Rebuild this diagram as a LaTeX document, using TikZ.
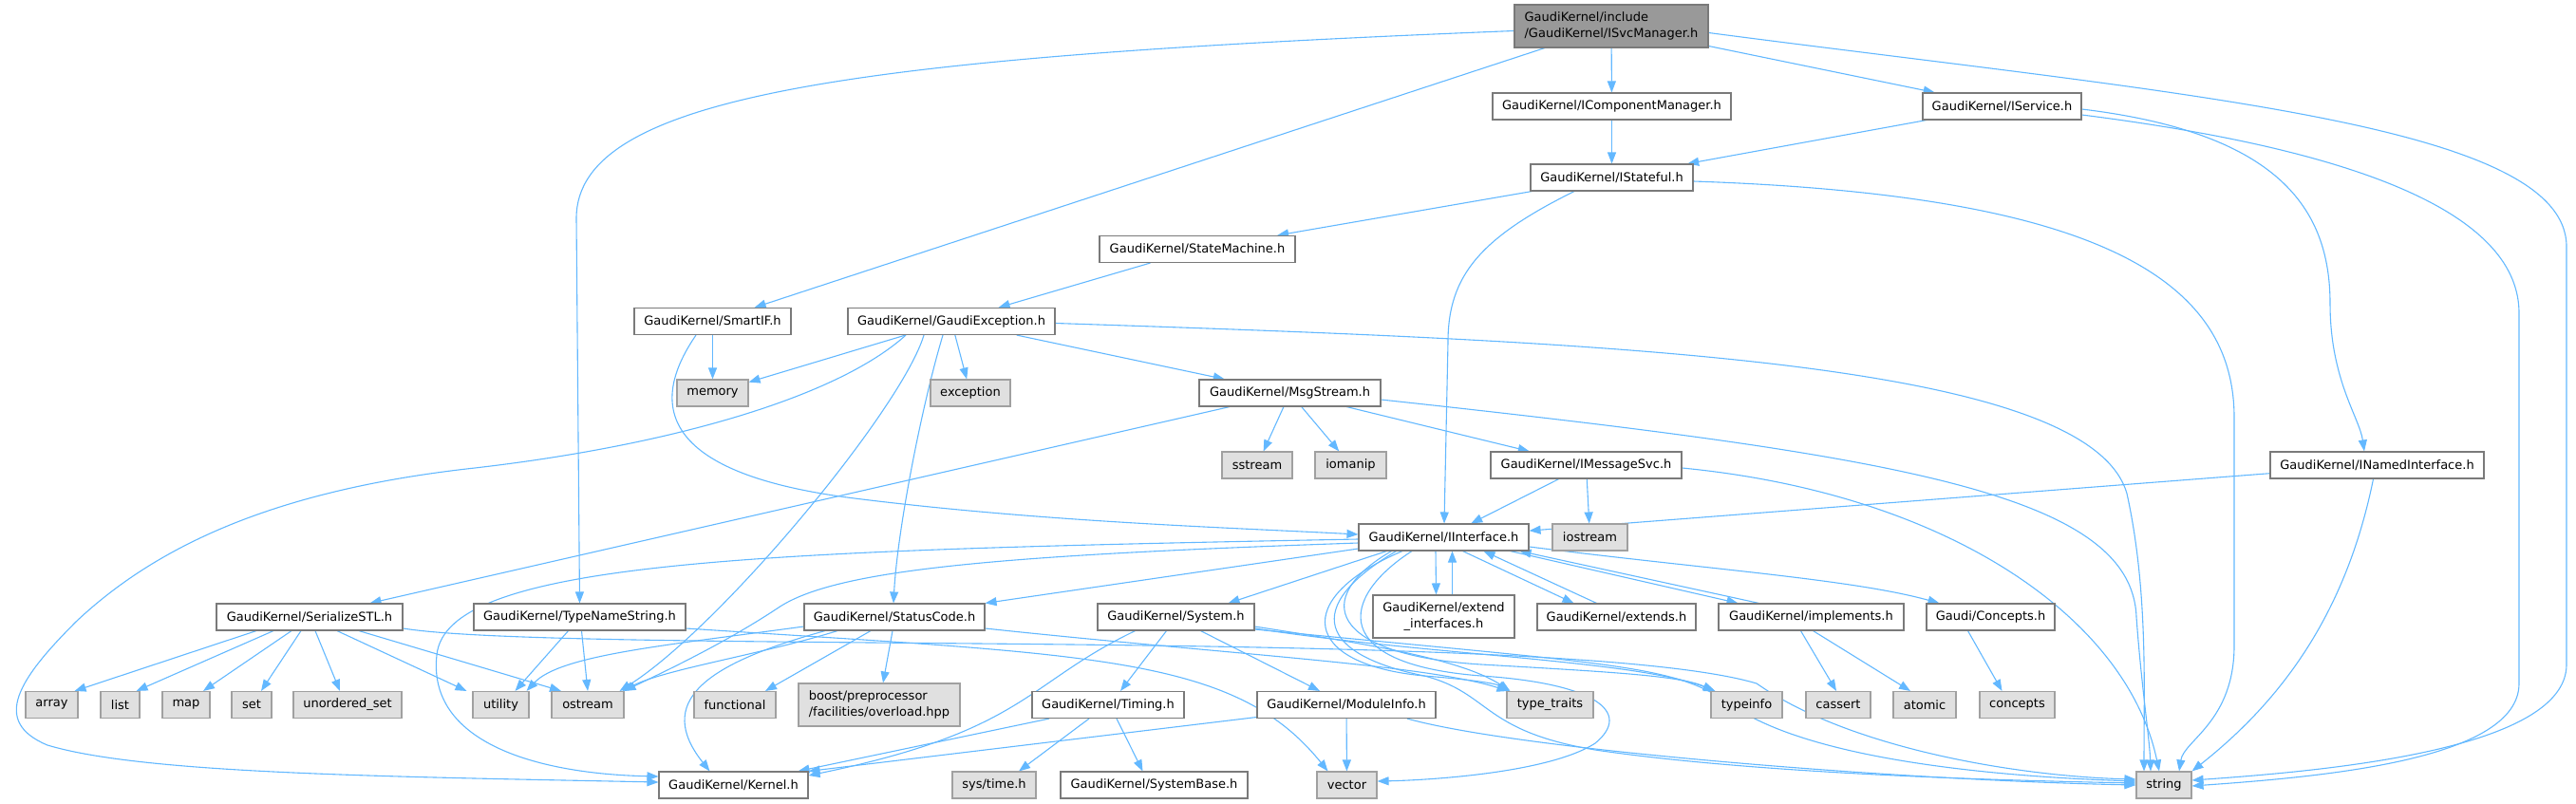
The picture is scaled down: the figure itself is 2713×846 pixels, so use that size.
\documentclass[tikz,border=0pt]{standalone}
\usepackage{fontspec}
\setmainfont{DejaVu Sans}
\usetikzlibrary{arrows.meta}
\definecolor{eblue}{HTML}{63B8FF}
\definecolor{bnorm}{HTML}{7A7A7A}
\definecolor{bleaf}{HTML}{A0A0A0}
\definecolor{fleaf}{HTML}{E0E0E0}
\definecolor{froot}{HTML}{999999}
\pgfdeclarelayer{bg}
\pgfsetlayers{bg,main}
\tikzset{
  nd/.style={draw=bnorm, fill=white, line width=1.1pt, inner sep=0pt, minimum height=28pt, font=\fontsize{13}{17}\selectfont},
  leaf/.style={nd, draw=bleaf, fill=fleaf},
  rootnd/.style={nd, draw=bnorm, fill=froot, minimum height=45pt},
  e/.style={draw=eblue, line width=1.1pt, -{Triangle[length=12pt,width=9pt]}},
}
\begin{document}
\begin{tikzpicture}[x=1pt,y=-1pt]
\useasboundingbox (0,0) rectangle (2713,846);
% nodes
\node[rootnd, minimum width=204pt, align=left] (root) at (1697,27.5) {GaudiKernel/include\\/GaudiKernel/ISvcManager.h};
\node[nd, minimum width=251pt] (icm) at (1697.5,112) {GaudiKernel/IComponentManager.h};
\node[nd, minimum width=167pt] (isvc) at (2108.5,112) {GaudiKernel/IService.h};
\node[nd, minimum width=171pt] (istate) at (1697.5,187) {GaudiKernel/IStateful.h};
\node[nd, minimum width=206pt] (sm) at (1261,262.5) {GaudiKernel/StateMachine.h};
\node[nd, minimum width=165pt] (smartif) at (750.5,338.5) {GaudiKernel/SmartIF.h};
\node[nd, minimum width=218pt] (ge) at (1002,338.5) {GaudiKernel/GaudiException.h};
\node[leaf, minimum width=75pt] (memory) at (750.5,414) {memory};
\node[leaf, minimum width=84pt] (exception) at (1022,414) {exception};
\node[nd, minimum width=191pt] (msg) at (1358.5,414) {GaudiKernel/MsgStream.h};
\node[leaf, minimum width=74pt] (sstream) at (1324,490) {sstream};
\node[leaf, minimum width=75pt] (iomanip) at (1422.5,490) {iomanip};
\node[nd, minimum width=201pt] (imsg) at (1670.5,490) {GaudiKernel/IMessageSvc.h};
\node[nd, minimum width=225pt] (inamed) at (2503.5,490) {GaudiKernel/INamedInterface.h};
\node[nd, minimum width=179pt] (iint) at (1520.5,566) {GaudiKernel/IInterface.h};
\node[leaf, minimum width=79pt] (iostream) at (1674.5,566) {iostream};
\node[nd, minimum width=196pt] (sstl) at (326,650) {GaudiKernel/SerializeSTL.h};
\node[nd, minimum width=223pt] (tns) at (610.5,650) {GaudiKernel/TypeNameString.h};
\node[nd, minimum width=190pt] (sc) at (942,650) {GaudiKernel/StatusCode.h};
\node[nd, minimum width=165pt] (sys) at (1238.5,650) {GaudiKernel/System.h};
\node[nd, minimum width=149pt, minimum height=45pt, align=center] (extif) at (1520.5,649.5) {GaudiKernel/extend\\\_interfaces.h};
\node[nd, minimum width=167pt] (extends) at (1702.5,650) {GaudiKernel/extends.h};
\node[nd, minimum width=195pt] (impl) at (1907.5,650) {GaudiKernel/implements.h};
\node[nd, minimum width=135pt] (gconc) at (2096.5,650) {Gaudi/Concepts.h};
\node[leaf, minimum width=55pt] (array) at (54.5,742.5) {array};
\node[leaf, minimum width=41pt] (list) at (126.5,742.5) {list};
\node[leaf, minimum width=50pt] (map) at (196,742.5) {map};
\node[leaf, minimum width=42pt] (set) at (265,742.5) {set};
\node[leaf, minimum width=114pt] (uset) at (366,742.5) {unordered\_set};
\node[leaf, minimum width=59pt] (utility) at (527.5,742.5) {utility};
\node[leaf, minimum width=76pt] (ostream) at (619,742.5) {ostream};
\node[leaf, minimum width=86pt] (functional) at (774,742.5) {functional};
\node[leaf, minimum width=170pt, minimum height=45pt, align=left] (boost) at (926,742.5) {boost/preprocessor\\/facilities/overload.hpp};
\node[nd, minimum width=160pt] (timing) at (1167,742.5) {GaudiKernel/Timing.h};
\node[nd, minimum width=188pt] (modinfo) at (1418,742.5) {GaudiKernel/ModuleInfo.h};
\node[leaf, minimum width=91pt] (ttraits) at (1632.5,742.5) {type\_traits};
\node[leaf, minimum width=75pt] (typeinfo) at (1839.5,742.5) {typeinfo};
\node[leaf, minimum width=68pt] (cassert) at (1936,742.5) {cassert};
\node[leaf, minimum width=66pt] (atomic) at (2027,742.5) {atomic};
\node[leaf, minimum width=79pt] (concepts) at (2124.5,742.5) {concepts};
\node[nd, minimum width=157pt] (kernel) at (772.5,827) {GaudiKernel/Kernel.h};
\node[leaf, minimum width=88pt] (systime) at (1047,827) {sys/time.h};
\node[nd, minimum width=197pt] (sysbase) at (1215.5,827) {GaudiKernel/SystemBase.h};
\node[leaf, minimum width=63pt] (vector) at (1418.5,827) {vector};
\node[leaf, minimum width=58pt] (string) at (2279,827) {string};
% edges
\begin{pgfonlayer}{bg}
% ISvcManager
\draw[e] (root) -- (icm);
\draw[e] (root) -- (isvc);
\draw[e] (root) -- (smartif);
\draw[e] ([yshift=-5pt]root.west) .. controls (900,60) and (607,100) .. (607,230) -- (tns.north);
\draw[e] ([yshift=-7pt]root.east) .. controls (2300,100) and (2703,130) .. (2703,260) -- (2703,700) .. controls (2703,790) and (2450,812) .. ([yshift=5pt]string.east);
\draw[e] (icm) -- (istate);
\draw[e] (isvc) -- (istate);
\draw[e] ([yshift=-3pt]isvc.east) .. controls (2400,140) and (2454,220) .. (2454,320) .. controls (2454,400) and (2485,440) .. ([xshift=-13.5pt]inamed.north);
\draw[e] ([yshift=-9pt]isvc.east) .. controls (2500,160) and (2653,230) .. (2653,330) -- (2653,720) .. controls (2653,800) and (2450,818) .. ([yshift=-1pt]string.east);
% IStateful
\draw[e] (istate) -- (sm);
\draw[e] ([xshift=-39.5pt]istate.south) .. controls (1560,250) and (1525,290) .. (1525,360) -- ([xshift=0.5pt]iint.north);
\draw[e] ([yshift=-4pt]istate.east) .. controls (2200,205) and (2353,290) .. (2353,440) -- (2353,680) .. controls (2353,760) and (2300,780) .. ([xshift=16pt]string.north);
\draw[e] (sm) -- (ge);
% SmartIF
\draw[e] (smartif) -- (memory);
\draw[e] ([xshift=-17.5pt]smartif.south) .. controls (680,430) and (700,500) .. (900,525) .. controls (1100,550) and (1300,556) .. ([yshift=3pt]iint.west);
% GaudiException
\draw[e] (ge) -- (memory);
\draw[e] (ge) -- (exception);
\draw[e] (ge) -- (msg);
\draw[e] ([xshift=-9pt]ge.south) .. controls (970,430) and (945,560) .. ([xshift=-1pt]sc.north);
\draw[e] ([xshift=-29pt]ge.south) .. controls (950,430) and (760,660) .. ([xshift=-5pt]ostream.north east);
\draw[e] ([xshift=-48pt]ge.south) .. controls (880,420) and (700,470) .. (500,493) .. controls (300,515) and (170,570) .. (80,655) .. controls (20,715) and (-10,760) .. (50,785) .. controls (150,815) and (400,818) .. ([yshift=3pt]kernel.west);
\draw[e] ([yshift=-2pt]ge.east) .. controls (1700,360) and (2200,380) .. (2240,520) .. controls (2262,620) and (2258,720) .. ([xshift=-21pt]string.north);
% MsgStream
\draw[e] (msg) -- (sstl);
\draw[e] (msg) -- (sstream);
\draw[e] (msg) -- (iomanip);
\draw[e] (msg) -- (imsg);
\draw[e] ([yshift=-7pt]msg.east) .. controls (2000,480) and (2245,520) .. (2250,650) .. controls (2255,720) and (2264,780) .. ([xshift=-14pt]string.north);
% IMessageSvc
\draw[e] (imsg) -- (iint);
\draw[e] (imsg) -- (iostream);
\draw[e] ([yshift=-3pt]imsg.east) .. controls (2050,520) and (2240,650) .. ([xshift=-5pt]string.north);
% INamedInterface
\draw[e] (inamed) -- (iint);
\draw[e] ([xshift=-4pt]inamed.south) .. controls (2470,650) and (2400,740) .. (string.north east);
% IInterface
\draw[e] ([xshift=-8.5pt]iint.south) -- ([xshift=-8pt]extif.north);
\draw[e] ([xshift=9pt]extif.north) -- ([xshift=9pt]iint.south);
\draw[e] ([xshift=20pt]iint.south) -- ([xshift=-45pt]extends.north);
\draw[e] ([xshift=-21pt]extends.north) -- ([xshift=42pt]iint.south);
\draw[e] ([xshift=-20pt]iint.south east) -- ([xshift=-77pt]impl.north);
\draw[e] ([xshift=-55pt]impl.north) -- ([xshift=-10pt]iint.south east);
\draw[e] ([yshift=-10pt]iint.east) .. controls (1800,600) and (1950,610) .. ([xshift=-54pt]gconc.north);
\draw[e] ([yshift=-12pt]iint.west) -- (sc.north east);
\draw[e] ([xshift=-60pt]iint.south) -- ([xshift=55pt]sys.north);
\draw[e] ([yshift=-2pt]iint.west) .. controls (800,580) and (470,590) .. (460,690) .. controls (450,780) and (560,815) .. ([yshift=9pt]kernel.west);
\draw[e] ([yshift=-6pt]iint.west) .. controls (1050,585) and (880,600) .. (820,640) .. controls (760,680) and (690,712) .. (ostream.north east);
\draw[e] ([xshift=-43.5pt]iint.south) .. controls (1360,630) and (1370,700) .. (1500,712) .. controls (1550,716) and (1575,720) .. ([xshift=-43pt]ttraits.north);
\draw[e] ([xshift=-55pt]iint.south) .. controls (1380,630) and (1400,690) .. (1560,700) .. controls (1700,708) and (1770,712) .. ([xshift=-34pt]typeinfo.north);
\draw[e] ([xshift=-33.5pt]iint.south) .. controls (1410,630) and (1400,700) .. (1560,712) .. controls (1680,720) and (1720,750) .. (1680,783) .. controls (1630,815) and (1500,822) .. ([yshift=4pt]vector.east);
\draw[e] ([xshift=-50pt]iint.south) .. controls (1370,640) and (1390,690) .. (1500,712) .. controls (1570,730) and (1560,770) .. (1680,790) .. controls (1850,815) and (2100,822) .. ([yshift=2pt]string.west);
% StatusCode
\draw[e] ([yshift=-10pt]sc.west) .. controls (700,680) and (590,690) .. ([xshift=-3pt]utility.north east);
\draw[e] ([xshift=-60pt]sc.south) .. controls (800,690) and (700,705) .. ([xshift=-2pt]ostream.north east);
\draw[e] ([xshift=-73pt]sc.south) .. controls (740,700) and (690,740) .. ([xshift=-25pt]kernel.north);
\draw[e] ([xshift=-25pt]sc.south) -- ([xshift=32pt]functional.north);
\draw[e] ([xshift=-2pt]sc.south) -- ([xshift=4pt]boost.north);
\draw[e] ([yshift=-12pt]sc.east) .. controls (1300,690) and (1500,700) .. ([xshift=-44pt]ttraits.north);
% System
\draw[e] ([xshift=-43pt]sys.south) .. controls (1080,720) and (1080,770) .. ([yshift=10pt]kernel.east);
\draw[e] ([xshift=-10pt]sys.south) -- ([xshift=13pt]timing.north);
\draw[e] ([xshift=26pt]sys.south) -- ([xshift=-28pt]modinfo.north);
\draw[e] ([yshift=-10pt]sys.east) .. controls (1450,680) and (1540,695) .. ([xshift=-42pt]ttraits.north);
\draw[e] ([yshift=-12pt]sys.east) .. controls (1500,690) and (1720,695) .. ([xshift=-33pt]typeinfo.north);
\draw[e] ([yshift=-13pt]sys.east) .. controls (1700,700) and (1760,700) .. (1820,740) .. controls (1900,800) and (2100,818) .. ([yshift=4pt]string.west);
% Timing
\draw[e] ([xshift=-62pt]timing.south) -- ([xshift=-11pt]kernel.north east);
\draw[e] ([xshift=-20pt]timing.south) -- ([xshift=26pt]systime.north);
\draw[e] ([xshift=9pt]timing.south) -- ([xshift=-12pt]sysbase.north);
% ModuleInfo
\draw[e] ([yshift=-13pt]modinfo.west) -- (kernel.north east);
\draw[e] (modinfo) -- (vector);
\draw[e] ([xshift=64pt]modinfo.south) .. controls (1600,790) and (2000,822) .. (string.west);
% TypeNameString
\draw[e] ([xshift=-12pt]tns.south) -- ([xshift=15pt]utility.north);
\draw[e] ([xshift=2pt]tns.south) -- (ostream.north);
\draw[e] ([yshift=-12pt]tns.east) .. controls (1150,690) and (1300,690) .. ([xshift=-20pt]vector.north);
% SerializeSTL
\draw[e] ([xshift=-56pt]sstl.south) -- ([xshift=-4pt]array.north east);
\draw[e] ([xshift=-38pt]sstl.south) -- ([xshift=-4pt]list.north east);
\draw[e] ([xshift=-19pt]sstl.south) -- ([xshift=18pt]map.north);
\draw[e] ([xshift=-9pt]sstl.south) -- ([xshift=10pt]set.north);
\draw[e] ([xshift=6pt]sstl.south) -- ([xshift=-8pt]uset.north);
\draw[e] ([xshift=29pt]sstl.south) -- ([xshift=-36pt]utility.north);
\draw[e] ([xshift=52pt]sstl.south) -- ([xshift=-28pt]ostream.north);
\draw[e] ([yshift=-12pt]sstl.east) .. controls (600,690) and (1650,660) .. (1850,720) .. controls (1950,790) and (2130,818) .. ([yshift=6pt]string.west);
% implements, Concepts
\draw[e] ([xshift=-11pt]impl.south) -- ([xshift=-2pt]cassert.north);
\draw[e] ([xshift=2pt]impl.south) -- ([xshift=-15pt]atomic.north);
\draw[e] ([xshift=-24pt]gconc.south) -- ([xshift=-16pt]concepts.north);
\end{pgfonlayer}
\end{tikzpicture}
\end{document}
